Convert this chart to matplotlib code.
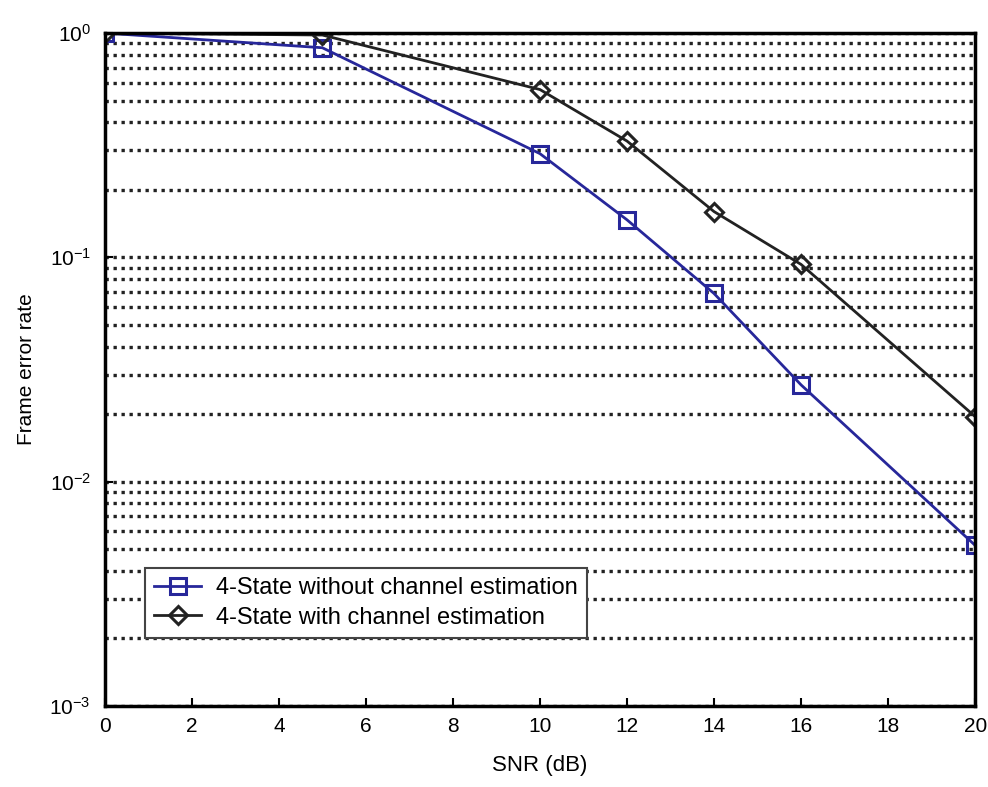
"""
plot.py

Frame error rate versus SNR for a 4-state scheme, with and without channel estimation.
"""

import matplotlib
matplotlib.use("Agg")
import matplotlib.pyplot as plt
from matplotlib.ticker import LogLocator, NullFormatter

plt.rcParams["font.family"] = ["Liberation Sans", "DejaVu Sans"]

# Data
snr_db = [0, 5, 10, 12, 14, 16, 20]
fer_without_est = [1.0, 0.86, 0.29, 0.147, 0.069, 0.027, 0.0052]
fer_with_est = [1.0, 0.98, 0.56, 0.33, 0.16, 0.093, 0.0195]
x_ticks = [0, 2, 4, 6, 8, 10, 12, 14, 16, 18, 20]

fig = plt.figure(figsize=(9.88, 7.87), dpi=100)
ax = fig.add_axes([0.106, 0.103, 0.881, 0.855])

ax.plot(snr_db, fer_without_est, color="#27279a", linewidth=2, marker="s",
        markersize=11, markerfacecolor="none", markeredgewidth=2.2,
        label="4-State without channel estimation")
ax.plot(snr_db, fer_with_est, color="#222222", linewidth=2, marker="D",
        markersize=9, markerfacecolor="none", markeredgewidth=2.2,
        label="4-State with channel estimation")

ax.set_yscale("log")
ax.set_xlim(0, 20)
ax.set_ylim(1e-3, 1)
ax.set_xticks(x_ticks)
ax.yaxis.set_major_locator(LogLocator(base=10))
ax.yaxis.set_minor_locator(LogLocator(base=10, subs=range(2, 10)))
ax.yaxis.set_minor_formatter(NullFormatter())

# horizontal dotted grid only, like the original scan
ax.grid(True, axis="y", which="both", color="#222222", linestyle=(0, (1, 1.4)),
        linewidth=2.4)
ax.tick_params(axis="both", direction="in", labelsize=15, length=6, width=1.5)
ax.tick_params(axis="x", pad=8)
ax.tick_params(axis="y", pad=10)
ax.tick_params(axis="y", which="minor", length=0)
for side in ax.spines.values():
    side.set_linewidth(2.5)

ax.set_xlabel("SNR (dB)", fontsize=16, labelpad=14)
ax.set_ylabel("Frame error rate", fontsize=15, labelpad=10)

leg = ax.legend(loc="lower left", bbox_to_anchor=(0.046, 0.101), fontsize=17,
                fancybox=False, framealpha=1, edgecolor="#444444",
                borderaxespad=0, borderpad=0.4, handlelength=2.0,
                handletextpad=0.6, labelspacing=0.3)
leg.get_frame().set_linewidth(1.5)

fig.savefig("out.png", dpi=100)
